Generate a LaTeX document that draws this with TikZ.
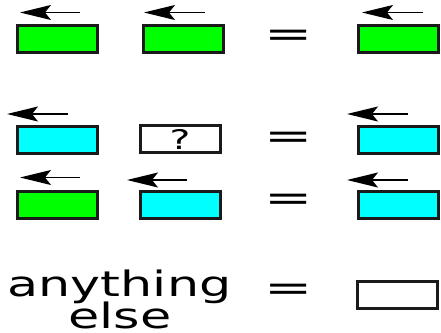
\documentclass[tikz,border=0pt]{standalone}
\usepackage{fontspec}
\setmainfont{DejaVu Sans}
\usetikzlibrary{arrows.meta}
\definecolor{boxgreen}{HTML}{00FF00}
\definecolor{boxcyan}{HTML}{00FFFF}
\definecolor{edge}{HTML}{1A1A1A}
\tikzset{
  tile/.style={draw=edge, line width=3pt, minimum width=80pt, minimum height=27pt, inner sep=0pt, outer sep=0pt},
  gtile/.style={tile, fill=boxgreen},
  ctile/.style={tile, fill=boxcyan},
  wtile/.style={tile, fill=white},
  dirarrow/.style={line width=1.4pt, -{Stealth[length=31pt, width=15pt, inset=6pt]}},
  eqsign/.style={inner sep=0pt, font=\fontsize{36pt}{40pt}\selectfont},
  label/.style={inner sep=0pt, anchor=base, font=\fontsize{35pt}{32pt}\selectfont},
}
\begin{document}
\begin{tikzpicture}[x=1pt, y=-1pt]
\useasboundingbox (0,0) rectangle (441,332);
% row 1
\node[gtile] (r1a) at (57.5,39) {};
\node[gtile] (r1b) at (183,39) {};
\node[eqsign] (e1) at (288.5,38.5) {\scalebox{1.6}[1]{=}};
\node[gtile] (r1c) at (398,39) {};
\draw[dirarrow] (80,12.5) -- (20,12.5);
\draw[dirarrow] (205,12.5) -- (144,12.5);
\draw[dirarrow] (423,12.5) -- (362,12.5);
% row 2
\node[ctile] (r2a) at (57.5,139.5) {};
\node[wtile] (r2b) at (180,139) {};
\node[inner sep=0pt, font=\fontsize{27pt}{30pt}\selectfont] (q) at (r2b.center) {\scalebox{1.45}[1]{?}};
\node[eqsign] (e2) at (288.5,140) {\scalebox{1.6}[1]{=}};
\node[ctile] (r2c) at (398,140) {};
\draw[dirarrow] (68,114) -- (7,114);
\draw[dirarrow] (408,114) -- (347,114);
% row 3
\node[gtile] (r3a) at (57.5,204.5) {};
\node[ctile] (r3b) at (180,204.5) {};
\node[eqsign] (e3) at (288.5,202.5) {\scalebox{1.6}[1]{=}};
\node[ctile] (r3c) at (398,204.5) {};
\draw[dirarrow] (80,177.5) -- (20,177.5);
\draw[dirarrow] (187,180) -- (127,180);
\draw[dirarrow] (408,180) -- (347,180);
% row 4
\node[label] (any) at (119.5,296) {\scalebox{1.45}[1]{anything}};
\node[label] (els) at (120,328.5) {\scalebox{1.45}[1]{else}};
\node[eqsign] (e4) at (288.5,292.5) {\scalebox{1.6}[1]{=}};
\node[wtile] (r4c) at (397,294.5) {};
\end{tikzpicture}
\end{document}
